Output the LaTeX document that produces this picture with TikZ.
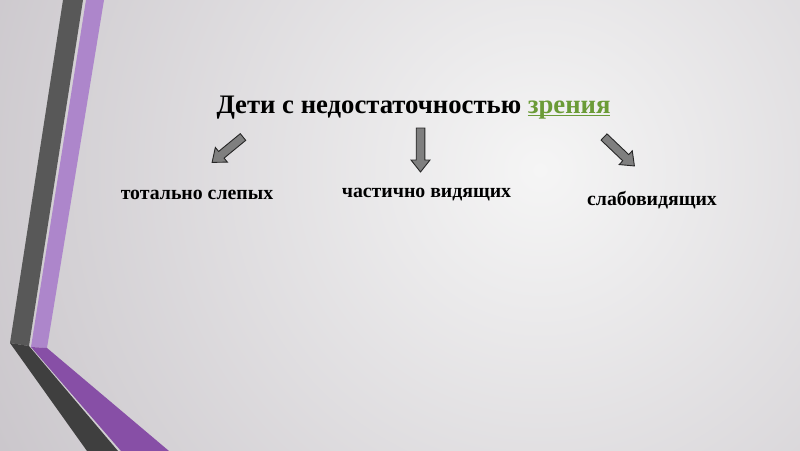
\documentclass[tikz,border=0pt]{standalone}
\usepackage{fontspec}
\setmainfont{Liberation Serif}
\definecolor{bgin}{HTML}{F5F5F5}
\definecolor{bgout}{HTML}{CAC6CB}
\definecolor{darkup}{HTML}{585858}
\definecolor{darklow}{HTML}{3F3F3F}
\definecolor{purpup}{HTML}{AD86CB}
\definecolor{purplow}{HTML}{874FA6}
\definecolor{greenw}{HTML}{6B9B37}
\definecolor{arrfill}{HTML}{7F7F7F}
\definecolor{arrline}{HTML}{262626}
\newcommand\grnul[1]{\setbox0\hbox{#1}\rlap{\rule[-3pt]{\wd0}{1.5pt}}\box0}
\tikzset{
  blockarrow/.style={fill=arrfill, draw=arrline, line width=0.9pt, line join=miter},
  titletext/.style={font=\fontsize{26.7}{30}\selectfont\bfseries, anchor=base, inner sep=0pt},
  subtext/.style={font=\fontsize{19.8}{23}\selectfont\bfseries, anchor=base, inner sep=0pt},
}
\begin{document}
\begin{tikzpicture}[x=1pt,y=-1pt]
\useasboundingbox (0,0) rectangle (800,450);
\begin{scope}
  \clip (0,0) rectangle (800,450);
  \shade[inner color=bgin, outer color=bgout] (540,170) circle (620);
  % decorative bands
  \fill[darkup] (63,0) -- (83,0) -- (29,346) -- (10,343) -- cycle;
  \fill[darklow] (10,343) -- (29,346) -- (118,451) -- (87,451) -- cycle;
  \fill[purpup] (86,0) -- (104,0) -- (47,348) -- (31,347) -- cycle;
  \fill[purplow] (31,347) -- (47,348) -- (169,451) -- (121,451) -- cycle;
\end{scope}
% texts
\node[titletext] (title) at (413.5,113) {Дети с недостаточностью \textcolor{greenw}{\grnul{зрения}}};
\node[subtext] (s1) at (197,199) {тотально слепых};
\node[subtext] (s2) at (426.5,197) {частично видящих};
\node[subtext] (s3) at (652,205) {слабовидящих};
% block arrows drawn pointing along +x then rotated
\foreach \name/\x/\y/\ang/\len in {a1/243/137/140.6/40, a2/420.5/128/90/44, a3/604/137/43.6/42}{
  \draw[blockarrow, shift={(\x,\y)}, rotate=-\ang]
    (0,-4.3) -- ({\len-12},-4.3) -- ({\len-12},-9.5) -- (\len,0) -- ({\len-12},9.5) -- ({\len-12},4.3) -- (0,4.3) -- cycle;
}
\end{tikzpicture}
\end{document}
